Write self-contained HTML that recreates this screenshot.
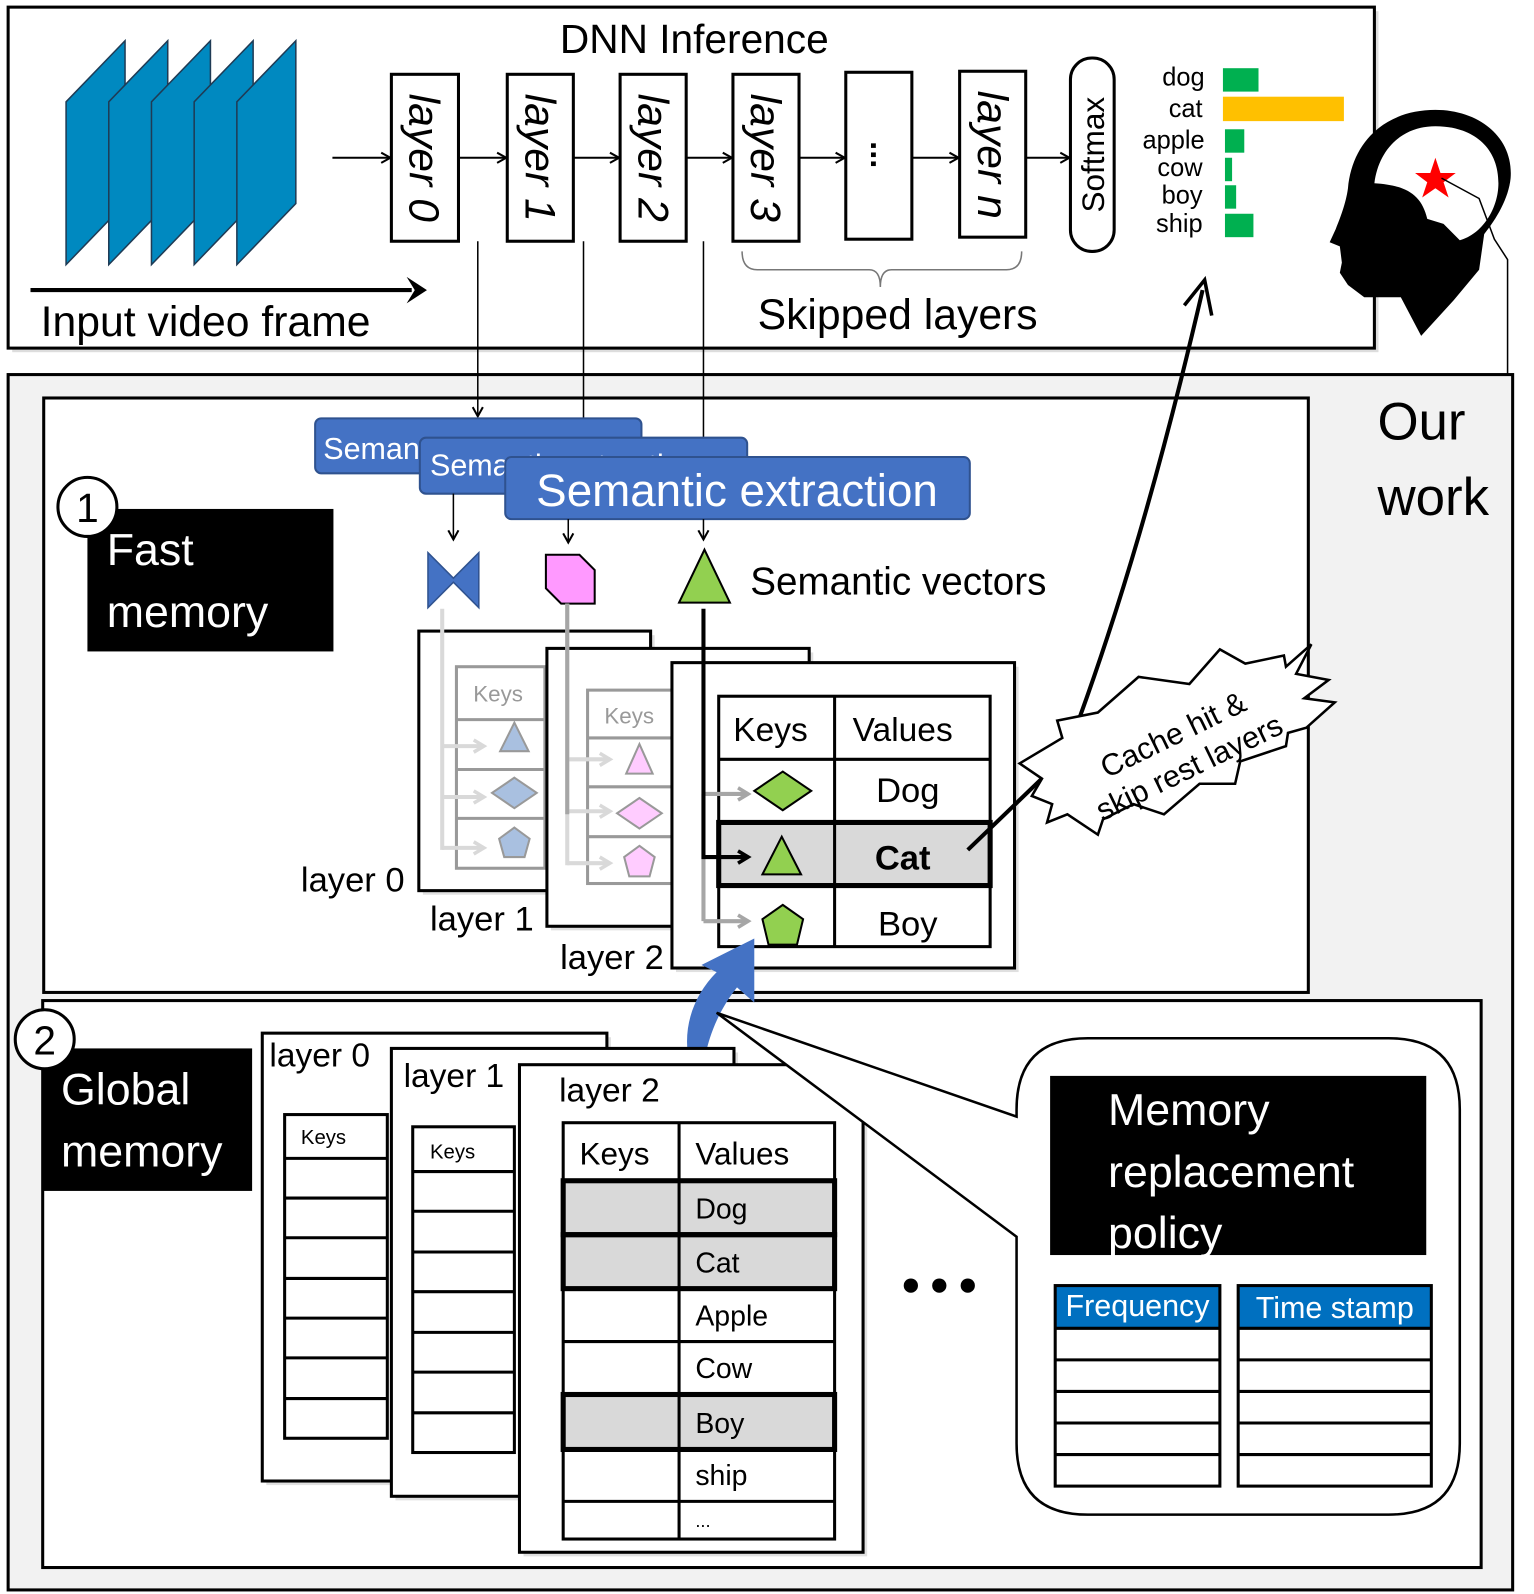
<!DOCTYPE html>
<html><head><meta charset="utf-8"><style>
html,body{margin:0;padding:0;background:#fff}
svg{display:block}
text{font-family:"Liberation Sans","DejaVu Sans",sans-serif}
</style></head><body>
<svg width="1534" height="1594" viewBox="0 0 1509 1566" preserveAspectRatio="none" xmlns="http://www.w3.org/2000/svg">
<defs>
<marker id="ah" markerWidth="12" markerHeight="12" refX="10" refY="6" orient="auto" markerUnits="userSpaceOnUse"><path d="M1,1 L10,6 L1,11" fill="none" stroke="#000" stroke-width="2"/></marker>
<marker id="ahb" markerWidth="16" markerHeight="16" refX="12" refY="8" orient="auto" markerUnits="userSpaceOnUse"><path d="M2,2 L12,8 L2,14" fill="none" stroke="#000" stroke-width="3.5"/></marker>
<marker id="ahg" markerWidth="16" markerHeight="16" refX="12" refY="8" orient="auto" markerUnits="userSpaceOnUse"><path d="M2,2 L12,8 L2,14" fill="none" stroke="#a6a6a6" stroke-width="3.5"/></marker>
<marker id="ahl" markerWidth="16" markerHeight="16" refX="12" refY="8" orient="auto" markerUnits="userSpaceOnUse"><path d="M2,2 L12,8 L2,14" fill="none" stroke="#d9d9d9" stroke-width="3.5"/></marker>
</defs>

<!-- TOP BOX -->
<rect x="12" y="11" width="1344" height="335" fill="#bbb" opacity="0.5"/>
<rect x="8" y="7" width="1344" height="335" fill="#fff" stroke="#000" stroke-width="3"/>
<text x="683" y="52" font-size="40" text-anchor="middle">DNN Inference</text>
<g fill="#0089c0" stroke="#1f3b55" stroke-width="1.5">
<polygon points="65,100 123,40 123,200 65,260"/>
<polygon points="107,100 165,40 165,200 107,260"/>
<polygon points="149,100 207,40 207,200 149,260"/>
<polygon points="191,100 249,40 249,200 191,260"/>
<polygon points="233,100 291,40 291,200 233,260"/>
</g>
<line x1="30" y1="285" x2="405" y2="285" stroke="#000" stroke-width="4"/>
<polygon points="400,272 420,285 400,298 408,285" fill="#000"/>
<text x="40" y="330" font-size="42">Input video frame</text>

<g fill="#fff" stroke="#000" stroke-width="3">
<rect x="385" y="73" width="66" height="164"/>
<rect x="499" y="73" width="65" height="164"/>
<rect x="610" y="73" width="65" height="164"/>
<rect x="721" y="73" width="65" height="164"/>
<rect x="832" y="71" width="65" height="164"/>
<rect x="944" y="70" width="65" height="163"/>
<rect x="1053" y="57" width="43" height="190" rx="21"/>
</g>
<g font-size="42" font-style="italic">
<text transform="translate(403,155) rotate(90)" text-anchor="middle">layer 0</text>
<text transform="translate(517,155) rotate(90)" text-anchor="middle">layer 1</text>
<text transform="translate(628,155) rotate(90)" text-anchor="middle">layer 2</text>
<text transform="translate(739,155) rotate(90)" text-anchor="middle">layer 3</text>
<text transform="translate(962,152) rotate(90)" text-anchor="middle">layer n</text>
</g>
<text transform="translate(857,152) rotate(90)" font-size="32" text-anchor="middle" font-weight="bold">...</text>
<text transform="translate(1086,152) rotate(-90)" font-size="31" text-anchor="middle">Softmax</text>
<g stroke="#000" stroke-width="2" marker-end="url(#ah)">
<line x1="327" y1="155" x2="384" y2="155"/>
<line x1="451" y1="155" x2="498" y2="155"/>
<line x1="564" y1="155" x2="609" y2="155"/>
<line x1="675" y1="155" x2="720" y2="155"/>
<line x1="786" y1="155" x2="831" y2="155"/>
<line x1="897" y1="155" x2="943" y2="155"/>
<line x1="1009" y1="155" x2="1052" y2="155"/>
</g>
<g font-size="25" text-anchor="end">
<text x="1185" y="84">dog</text><text x="1183" y="115">cat</text><text x="1185" y="146">apple</text>
<text x="1183" y="173">cow</text><text x="1183" y="200">boy</text><text x="1183" y="228">ship</text>
</g>
<rect x="1203" y="67" width="35" height="23" fill="#00b050"/>
<rect x="1203" y="95" width="119" height="24" fill="#ffc000"/>
<rect x="1205" y="127" width="19" height="23" fill="#00b050"/>
<rect x="1205" y="155" width="7" height="23" fill="#00b050"/>
<rect x="1205" y="182" width="11" height="23" fill="#00b050"/>
<rect x="1205" y="210" width="28" height="23" fill="#00b050"/>
<path d="M730,247 Q730,265 745,265 L855,265 Q866,265 866,282 Q866,265 877,265 L990,265 Q1005,265 1005,247" fill="none" stroke="#777" stroke-width="1.5"/>
<text x="883" y="323" font-size="42" text-anchor="middle">Skipped layers</text>

<!-- head -->
<path d="M1412,108 C1362,108 1330,140 1326,185 C1324,200 1318,215 1314,225 L1308,238 L1318,242 L1320,258 L1318,268 L1326,280 L1342,292 L1378,292 L1398,330 L1430,295 L1455,265 L1460,230 C1472,215 1484,195 1486,175 C1489,135 1455,108 1412,108 Z" fill="#000"/>
<path d="M1412,124 C1378,124 1356,148 1352,180 C1382,182 1398,190 1404,215 L1420,220 L1436,236 C1458,230 1474,205 1474,180 C1474,143 1447,124 1412,124 Z" fill="#fff"/>
<polygon points="1412,155 1417,170 1432,170 1420,179 1425,194 1412,185 1399,194 1404,179 1392,170 1407,170" fill="#f00"/>
<polyline points="1418,175 1455,195 1470,235 1483,255 1483,375" fill="none" stroke="#000" stroke-width="1.5"/>

<!-- BOTTOM OUTER -->
<rect x="8" y="368" width="1480" height="1194" fill="#f2f2f2" stroke="#000" stroke-width="3"/>
<text x="1355" y="432" font-size="52">Our</text>
<text x="1355" y="506" font-size="52">work</text>
<rect x="43" y="391" width="1244" height="584" fill="#fff" stroke="#000" stroke-width="3"/>
<rect x="42" y="983" width="1415" height="557" fill="#fff" stroke="#000" stroke-width="3"/>

<!-- vertical connectors -->
<g stroke="#000" stroke-width="1.5" marker-end="url(#ah)">
<line x1="470" y1="237" x2="470" y2="409"/>
<line x1="574" y1="237" x2="574" y2="426"/>
<line x1="692" y1="237" x2="692" y2="442"/>
</g>

<!-- semantic extraction -->
<rect x="310" y="411" width="321" height="54" rx="6" fill="#4472c4" stroke="#2f528f" stroke-width="2"/>
<text x="318" y="451" font-size="30" fill="#fff">Semantic extraction</text>
<rect x="413" y="430" width="322" height="55" rx="6" fill="#4472c4" stroke="#2f528f" stroke-width="2"/>
<text x="423" y="467" font-size="30" fill="#fff">Semantic extraction</text>
<rect x="497" y="449" width="457" height="61" rx="6" fill="#4472c4" stroke="#2f528f" stroke-width="2"/>
<text x="725" y="497" font-size="45" fill="#fff" text-anchor="middle">Semantic extraction</text>
<g stroke="#000" stroke-width="1.5" marker-end="url(#ah)">
<line x1="446" y1="485" x2="446" y2="530"/>
<line x1="559" y1="510" x2="559" y2="533"/>
<line x1="692" y1="510" x2="692" y2="530"/>
</g>
<polygon points="421,543 446,568 471,543 471,597 446,572 421,597" fill="#4472c4" stroke="#2f528f" stroke-width="1.5"/>
<polygon points="537,545 570,545 585,560 585,593 552,593 537,578" fill="#ff99ff" stroke="#000" stroke-width="2"/>
<polygon points="693,540 718,592 668,592" fill="#92d050" stroke="#000" stroke-width="2"/>
<text x="738" y="584" font-size="38">Semantic vectors</text>

<rect x="86" y="500" width="242" height="140" fill="#000"/>
<circle cx="86" cy="498" r="29" fill="#fff" stroke="#000" stroke-width="3"/>
<text x="86" y="513" font-size="40" text-anchor="middle">1</text>
<text x="105" y="555" font-size="44" fill="#fff">Fast</text>
<text x="105" y="616" font-size="44" fill="#fff">memory</text>

<!-- layer 0 fast -->
<rect x="416" y="624" width="228" height="255" fill="#ccc" opacity="0.6"/>
<rect x="412" y="620" width="228" height="255" fill="#fff" stroke="#000" stroke-width="3"/>
<g fill="none" stroke="#999" stroke-width="3"><rect x="449" y="655" width="87" height="198"/>
<line x1="449" y1="707" x2="536" y2="707"/><line x1="449" y1="756" x2="536" y2="756"/><line x1="449" y1="804" x2="536" y2="804"/></g>
<text x="490" y="689" font-size="22" fill="#999" text-anchor="middle">Keys</text>
<g fill="#a9c0e0" stroke="#999" stroke-width="2">
<polygon points="506,710 520,738 492,738"/><polygon points="506,764 528,779 506,794 484,779"/>
<polygon points="506,813 521,824 516,842 496,842 491,824"/></g>
<g stroke="#d9d9d9" stroke-width="4" fill="none"><polyline points="435,598 435,835"/></g>
<g stroke="#d9d9d9" stroke-width="4" marker-end="url(#ahl)"><line x1="435" y1="733" x2="476" y2="733"/><line x1="435" y1="783" x2="476" y2="783"/><line x1="435" y1="833" x2="476" y2="833"/></g>

<!-- layer 1 fast -->
<rect x="542" y="641" width="258" height="273" fill="#ccc" opacity="0.6"/>
<rect x="538" y="637" width="258" height="273" fill="#fff" stroke="#000" stroke-width="3"/>
<g fill="none" stroke="#999" stroke-width="3"><rect x="578" y="678" width="90" height="190"/>
<line x1="578" y1="725" x2="668" y2="725"/><line x1="578" y1="773" x2="668" y2="773"/><line x1="578" y1="822" x2="668" y2="822"/></g>
<text x="619" y="711" font-size="22" fill="#999" text-anchor="middle">Keys</text>
<g fill="#ffccff" stroke="#999" stroke-width="2">
<polygon points="629,731 642,760 616,760"/><polygon points="629,784 651,799 629,814 607,799"/>
<polygon points="629,831 644,842 639,861 619,861 614,842"/></g>
<g stroke="#d9d9d9" stroke-width="4" fill="none"><polyline points="558,593 558,850"/></g>
<g stroke="#d9d9d9" stroke-width="4" marker-end="url(#ahl)"><line x1="558" y1="746" x2="600" y2="746"/><line x1="558" y1="797" x2="600" y2="797"/><line x1="558" y1="848" x2="600" y2="848"/></g>
<g stroke="#a6a6a6" stroke-width="4" fill="none"><polyline points="558,593 558,800"/></g>

<!-- layer 2 fast -->
<rect x="665" y="655" width="337" height="300" fill="#ccc" opacity="0.6"/>
<rect x="661" y="651" width="337" height="300" fill="#fff" stroke="#000" stroke-width="3"/>
<rect x="707" y="808" width="267" height="62" fill="#d9d9d9"/>
<g fill="none" stroke="#000" stroke-width="3"><rect x="707" y="684" width="267" height="246"/>
<line x1="821" y1="684" x2="821" y2="930"/><line x1="707" y1="746" x2="974" y2="746"/><line x1="707" y1="870" x2="974" y2="870"/></g>
<rect x="707" y="808" width="267" height="62" fill="none" stroke="#000" stroke-width="5"/>
<text x="758" y="728" font-size="33" text-anchor="middle">Keys</text>
<text x="888" y="728" font-size="33" text-anchor="middle">Values</text>
<text x="893" y="788" font-size="34" text-anchor="middle">Dog</text>
<text x="888" y="854" font-size="34" text-anchor="middle" font-weight="bold">Cat</text>
<text x="893" y="919" font-size="34" text-anchor="middle">Boy</text>
<polygon points="770,758 798,777 770,796 742,777" fill="#92d050" stroke="#000" stroke-width="2"/>
<polygon points="769,822 788,859 750,859" fill="#92d050" stroke="#000" stroke-width="2"/>
<polygon points="770,889 790,903 784,928 756,928 750,903" fill="#92d050" stroke="#000" stroke-width="2"/>
<g stroke="#a6a6a6" stroke-width="4" fill="none"><polyline points="692,780 692,905"/></g>
<g stroke="#a6a6a6" stroke-width="4" marker-end="url(#ahg)"><line x1="692" y1="780" x2="736" y2="780"/><line x1="692" y1="905" x2="736" y2="905"/></g>
<polyline points="692,598 692,842 736,842" fill="none" stroke="#000" stroke-width="4" marker-end="url(#ahb)"/>
<text x="296" y="876" font-size="34">layer 0</text>
<text x="423" y="914" font-size="34">layer 1</text>
<text x="551" y="952" font-size="34">layer 2</text>

<!-- burst -->
<line x1="952" y1="835" x2="1030" y2="760" stroke="#000" stroke-width="4"/>
<path d="M1062,705 C1100,600 1140,470 1183,285" fill="none" stroke="#000" stroke-width="4"/>
<polyline points="1165,300 1185,275 1192,310" fill="none" stroke="#000" stroke-width="3.5"/>
<polygon points="1003,750 1045,725 1040,708 1080,700 1120,665 1170,672 1200,638 1225,652 1263,644 1265,655 1290,633 1275,662 1307,668 1283,686 1313,690 1285,715 1267,720 1265,733 1220,748 1215,770 1180,770 1145,800 1115,790 1085,805 1080,820 1050,800 1030,808 1035,790 1015,782 1025,765" fill="#fff" stroke="#000" stroke-width="2.5"/>
<g transform="translate(1162,738) rotate(-26)" font-size="30" text-anchor="middle">
<text x="0" y="-8">Cache hit  &amp;</text><text x="0" y="28">skip rest layers</text></g>

<!-- blue curved arrow -->
<path d="M690,1075 C665,1030 675,985 705,955 L690,948 L742,922 L742,985 L725,970 C705,995 690,1030 690,1075 Z" fill="#4472c4"/>

<!-- GLOBAL MEMORY -->
<rect x="41" y="1030" width="207" height="140" fill="#000"/>
<circle cx="44" cy="1021" r="29" fill="#fff" stroke="#000" stroke-width="3"/>
<text x="44" y="1036" font-size="40" text-anchor="middle">2</text>
<text x="60" y="1085" font-size="44" fill="#fff">Global</text>
<text x="60" y="1146" font-size="44" fill="#fff">memory</text>

<rect x="262" y="1019" width="339" height="440" fill="#ccc" opacity="0.6"/>
<rect x="258" y="1015" width="339" height="440" fill="#fff" stroke="#000" stroke-width="3"/>
<text x="265" y="1048" font-size="33">layer 0</text>
<g fill="none" stroke="#000" stroke-width="3"><rect x="280" y="1095" width="101" height="318"/>
<line x1="280" y1="1138" x2="381" y2="1138"/><line x1="280" y1="1177" x2="381" y2="1177"/><line x1="280" y1="1216" x2="381" y2="1216"/><line x1="280" y1="1256" x2="381" y2="1256"/><line x1="280" y1="1295" x2="381" y2="1295"/><line x1="280" y1="1334" x2="381" y2="1334"/><line x1="280" y1="1374" x2="381" y2="1374"/></g>
<text x="296" y="1124" font-size="20">Keys</text>

<rect x="389" y="1034" width="337" height="440" fill="#ccc" opacity="0.6"/>
<rect x="385" y="1030" width="337" height="440" fill="#fff" stroke="#000" stroke-width="3"/>
<text x="397" y="1068" font-size="33">layer 1</text>
<g fill="none" stroke="#000" stroke-width="3"><rect x="406" y="1107" width="100" height="320"/>
<line x1="406" y1="1151" x2="506" y2="1151"/><line x1="406" y1="1190" x2="506" y2="1190"/><line x1="406" y1="1230" x2="506" y2="1230"/><line x1="406" y1="1269" x2="506" y2="1269"/><line x1="406" y1="1309" x2="506" y2="1309"/><line x1="406" y1="1348" x2="506" y2="1348"/><line x1="406" y1="1388" x2="506" y2="1388"/></g>
<text x="423" y="1138" font-size="20">Keys</text>

<rect x="515" y="1050" width="338" height="479" fill="#ccc" opacity="0.6"/>
<rect x="511" y="1046" width="338" height="479" fill="#fff" stroke="#000" stroke-width="3"/>
<text x="550" y="1082" font-size="33">layer 2</text>
<g fill="#d9d9d9"><rect x="554" y="1160" width="267" height="53"/><rect x="554" y="1213" width="267" height="53"/><rect x="554" y="1370" width="267" height="54"/></g>
<g fill="none" stroke="#000" stroke-width="3"><rect x="554" y="1103" width="267" height="409"/>
<line x1="668" y1="1103" x2="668" y2="1512"/>
<line x1="554" y1="1318" x2="821" y2="1318"/><line x1="554" y1="1475" x2="821" y2="1475"/><line x1="554" y1="1266" x2="821" y2="1266"/></g>
<g fill="none" stroke="#000" stroke-width="5"><rect x="554" y="1160" width="267" height="53"/><rect x="554" y="1213" width="267" height="53"/><rect x="554" y="1370" width="267" height="54"/></g>
<text x="570" y="1144" font-size="31">Keys</text><text x="684" y="1144" font-size="31">Values</text>
<g font-size="28"><text x="684" y="1197">Dog</text><text x="684" y="1250">Cat</text><text x="684" y="1302">Apple</text><text x="684" y="1354">Cow</text><text x="684" y="1408">Boy</text><text x="684" y="1459">ship</text><text x="684" y="1500" font-size="18">...</text></g>
<circle cx="896" cy="1263" r="7"/><circle cx="924" cy="1263" r="7"/><circle cx="952" cy="1263" r="7"/>

<!-- callout -->
<path d="M1070,1020 L1366,1020 Q1436,1020 1436,1090 L1436,1418 Q1436,1488 1366,1488 L1070,1488 Q1000,1488 1000,1418 L1000,1215 L705,995 L1000,1097 L1000,1090 Q1000,1020 1070,1020 Z" fill="#fff" stroke="#000" stroke-width="2.5"/>
<rect x="1033" y="1057" width="370" height="176" fill="#000"/>
<text x="1090" y="1105" font-size="44" fill="#fff">Memory</text>
<text x="1090" y="1166" font-size="44" fill="#fff">replacement</text>
<text x="1090" y="1226" font-size="44" fill="#fff">policy</text>
<rect x="1038" y="1263" width="162" height="42" fill="#0070c0"/>
<rect x="1218" y="1263" width="190" height="42" fill="#0070c0"/>
<text x="1119" y="1293" font-size="30" fill="#fff" text-anchor="middle">Frequency</text>
<text x="1313" y="1295" font-size="30" fill="#fff" text-anchor="middle">Time stamp</text>
<g fill="none" stroke="#000" stroke-width="3">
<rect x="1038" y="1263" width="162" height="197"/><rect x="1218" y="1263" width="190" height="197"/>
<line x1="1038" y1="1305" x2="1200" y2="1305"/><line x1="1038" y1="1336" x2="1200" y2="1336"/><line x1="1038" y1="1367" x2="1200" y2="1367"/><line x1="1038" y1="1398" x2="1200" y2="1398"/><line x1="1038" y1="1429" x2="1200" y2="1429"/>
<line x1="1218" y1="1305" x2="1408" y2="1305"/><line x1="1218" y1="1336" x2="1408" y2="1336"/><line x1="1218" y1="1367" x2="1408" y2="1367"/><line x1="1218" y1="1398" x2="1408" y2="1398"/><line x1="1218" y1="1429" x2="1408" y2="1429"/>
</g>
</svg>
</body></html>
